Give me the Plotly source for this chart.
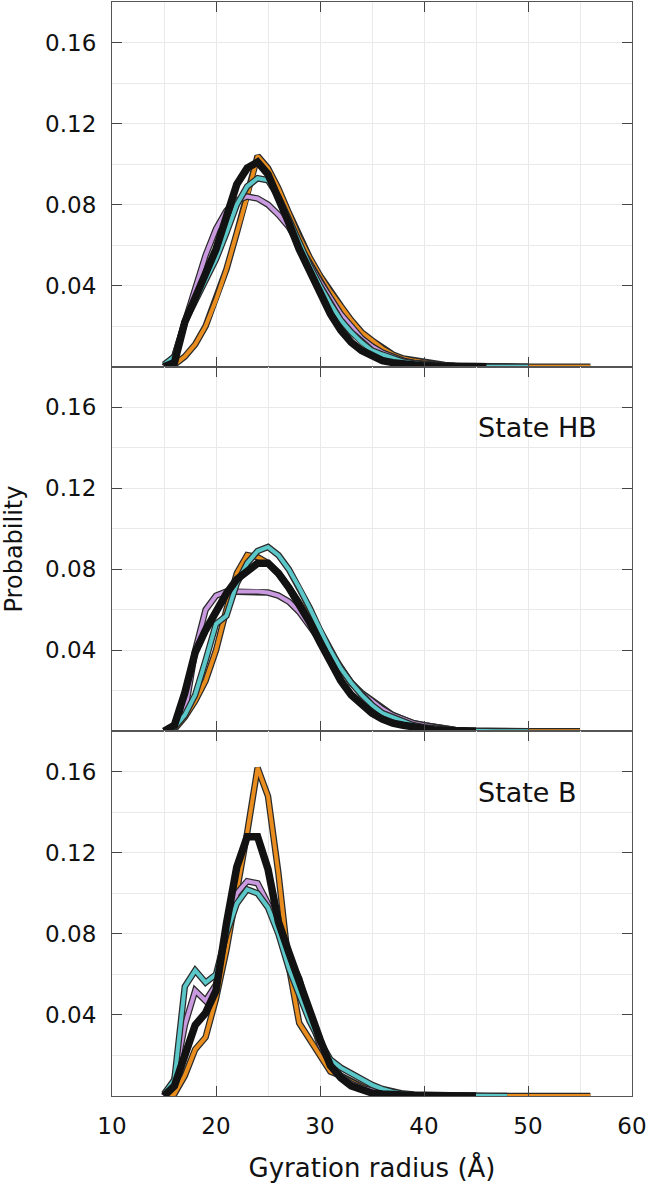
import plotly.graph_objects as go
from plotly.subplots import make_subplots

# Common radius grid (Å); each series uses the first len(values) points
radius = list(range(15, 57))

# ---- Panel 1 (top) ----
top_orange = [0, 0.001, 0.005, 0.011, 0.020, 0.033, 0.048, 0.066, 0.084, 0.104, 0.098, 0.088, 0.076,
              0.064, 0.054, 0.045, 0.037, 0.030, 0.023, 0.017, 0.013, 0.009, 0.006, 0.004, 0.003, 0.002,
              0.0013, 0.0008, 0.0005, 0.0003, 0.0002, 0.0001, 0, 0, 0, 0, 0, 0, 0, 0, 0, 0]
top_purple = [0, 0.005, 0.022, 0.038, 0.055, 0.068, 0.077, 0.082, 0.084, 0.083, 0.080, 0.075, 0.069,
              0.060, 0.051, 0.042, 0.034, 0.026, 0.020, 0.014, 0.010, 0.007, 0.005, 0.003, 0.002,
              0.0013, 0.0008, 0.0005, 0.0003, 0.0001]
top_cyan = [0.001, 0.005, 0.022, 0.032, 0.043, 0.053, 0.066, 0.080, 0.089, 0.093, 0.092, 0.084, 0.073,
            0.061, 0.050, 0.040, 0.031, 0.023, 0.017, 0.012, 0.008, 0.006, 0.004, 0.0025, 0.0017, 0.001,
            0.0006, 0.0004, 0.0002, 0.0001, 0, 0, 0, 0, 0, 0]
top_black = [0, 0.002, 0.022, 0.035, 0.046, 0.058, 0.074, 0.090, 0.098, 0.101, 0.095, 0.084, 0.071,
             0.058, 0.047, 0.036, 0.026, 0.018, 0.012, 0.008, 0.005, 0.003, 0.002, 0.0012, 0.0008,
             0.0004, 0.0002, 0.0001, 0, 0, 0, 0]

# ---- Panel 2 (State HB) ----
hb_orange = [0, 0.001, 0.007, 0.015, 0.025, 0.040, 0.060, 0.078, 0.087, 0.086, 0.083, 0.078, 0.071,
             0.064, 0.056, 0.047, 0.039, 0.031, 0.024, 0.018, 0.014, 0.010, 0.008, 0.006, 0.004, 0.003,
             0.002, 0.0012, 0.0007, 0.0004, 0.0002, 0.0001, 0, 0, 0, 0, 0, 0, 0, 0, 0]
hb_purple = [0, 0.002, 0.009, 0.040, 0.060, 0.067, 0.069, 0.069, 0.069, 0.069, 0.0685, 0.067, 0.064,
             0.059, 0.052, 0.045, 0.038, 0.031, 0.024, 0.019, 0.015, 0.011, 0.008, 0.006, 0.004, 0.003,
             0.002, 0.0012, 0.0007, 0.0004, 0.0002]
hb_cyan = [0, 0.002, 0.008, 0.018, 0.035, 0.053, 0.057, 0.073, 0.083, 0.089, 0.091, 0.087, 0.080,
           0.071, 0.061, 0.050, 0.040, 0.031, 0.024, 0.018, 0.013, 0.009, 0.007, 0.005, 0.003, 0.002,
           0.0012, 0.0007, 0.0004, 0.0002, 0.0001, 0, 0, 0, 0, 0]
hb_black = [0, 0.003, 0.019, 0.039, 0.050, 0.060, 0.068, 0.075, 0.079, 0.083, 0.083, 0.078, 0.071,
            0.063, 0.054, 0.044, 0.034, 0.025, 0.018, 0.013, 0.009, 0.006, 0.004, 0.003, 0.002,
            0.0012, 0.0007, 0.0004, 0.0002, 0.0001, 0]

# ---- Panel 3 (State B) ----
b_orange = [0, 0.001, 0.010, 0.023, 0.029, 0.048, 0.072, 0.100, 0.130, 0.162, 0.148, 0.110, 0.064,
            0.036, 0.028, 0.020, 0.012, 0.010, 0.007, 0.0047, 0.003, 0.002, 0.001, 0.0005, 0.0003,
            0.0002, 0.0001, 0, 0, 0, 0, 0, 0, 0, 0, 0, 0, 0, 0, 0, 0, 0]
b_purple = [0, 0.008, 0.035, 0.052, 0.047, 0.055, 0.082, 0.100, 0.106, 0.105, 0.095, 0.082, 0.068,
            0.058, 0.040, 0.025, 0.016, 0.010, 0.006, 0.004, 0.0025, 0.0015, 0.001, 0.0005, 0.0003,
            0.0002, 0.0001, 0, 0, 0]
b_cyan = [0.001, 0.008, 0.054, 0.062, 0.056, 0.060, 0.080, 0.095, 0.102, 0.100, 0.093, 0.080, 0.063,
          0.050, 0.037, 0.027, 0.018, 0.014, 0.011, 0.008, 0.0055, 0.0035, 0.002, 0.0012, 0.0007,
          0.0005, 0.0003, 0.0002, 0.0001, 0, 0, 0, 0, 0]
b_black = [0, 0.005, 0.020, 0.035, 0.041, 0.052, 0.085, 0.113, 0.128, 0.128, 0.112, 0.086, 0.071,
           0.056, 0.043, 0.028, 0.015, 0.009, 0.005, 0.003, 0.0015, 0.001, 0.0005, 0.0003, 0.0002,
           0.0001, 0, 0, 0, 0, 0]

panels = [
    (top_orange, top_purple, top_cyan, top_black),
    (hb_orange, hb_purple, hb_cyan, hb_black),
    (b_orange, b_purple, b_cyan, b_black),
]
panel_labels = ["", "State HB", "State B"]

ORANGE = "#E98E1E"
PURPLE = "#C99ADF"
CYAN = "#5CC7C8"
OUTLINE = "#2a2a2a"
BLACK = "#121212"
FONT = "DejaVu Sans"

fig = make_subplots(rows=3, cols=1, shared_xaxes=True, vertical_spacing=0)

for r, (o, p, c, k) in enumerate(panels, start=1):
    for vals, col in ((o, ORANGE), (p, PURPLE), (c, CYAN)):
        xs = radius[:len(vals)]
        fig.add_trace(go.Scatter(x=xs, y=vals, mode="lines",
                                 line=dict(color=OUTLINE, width=6.5),
                                 showlegend=False, hoverinfo="skip"), row=r, col=1)
        fig.add_trace(go.Scatter(x=xs, y=vals, mode="lines",
                                 line=dict(color=col, width=4),
                                 showlegend=False), row=r, col=1)
    fig.add_trace(go.Scatter(x=radius[:len(k)], y=k, mode="lines",
                             line=dict(color=BLACK, width=7.5),
                             showlegend=False), row=r, col=1)

grid_col = "#e9e9e9"
axis_common = dict(
    ticks="inside", ticklen=10, tickwidth=1.3, tickcolor="#444",
    mirror="allticks", showline=True, linecolor="#555", linewidth=1.2,
    showgrid=True, gridcolor=grid_col, gridwidth=1, zeroline=False,
    tickfont=dict(family=FONT, size=23, color="#111"),
)
fig.update_xaxes(range=[10, 60], tickmode="array", tickvals=[10, 20, 30, 40, 50, 60],
                 minor=dict(tickmode="linear", tick0=5, dtick=5, showgrid=True,
                            gridcolor=grid_col, ticks=""),
                 ticklabelstandoff=9, **axis_common)
fig.update_yaxes(range=[0, 0.18], tickmode="array", tickvals=[0.04, 0.08, 0.12, 0.16],
                 ticktext=["0.04", "0.08", "0.12", "0.16"],
                 minor=dict(tickmode="linear", tick0=0, dtick=0.02, showgrid=True,
                            gridcolor=grid_col, ticks=""),
                 ticklabelstandoff=10, **axis_common)

fig.update_xaxes(title=dict(text="Gyration radius (Å)", font=dict(family=FONT, size=26, color="#111"),
                            standoff=21), row=3, col=1)
fig.update_yaxes(title=dict(text="Probability", font=dict(family=FONT, size=24, color="#111"),
                            standoff=16), row=2, col=1)

for r, label in enumerate(panel_labels, start=1):
    if not label:
        continue
    fig.add_annotation(text=label, xref=f"x{r} domain", yref=f"y{r} domain",
                       x=0.70, y=0.832, xanchor="left", yanchor="middle", showarrow=False,
                       font=dict(family=FONT, size=27, color="#111"))

fig.update_layout(width=651, height=1183, margin=dict(l=112, r=19, t=2, b=87, autoexpand=False),
                  paper_bgcolor="white", plot_bgcolor="white",
                  font=dict(family=FONT, color="#111"))

fig.write_html("out.html", config={"displayModeBar": False},
               post_script="document.body.style.margin='0';")
